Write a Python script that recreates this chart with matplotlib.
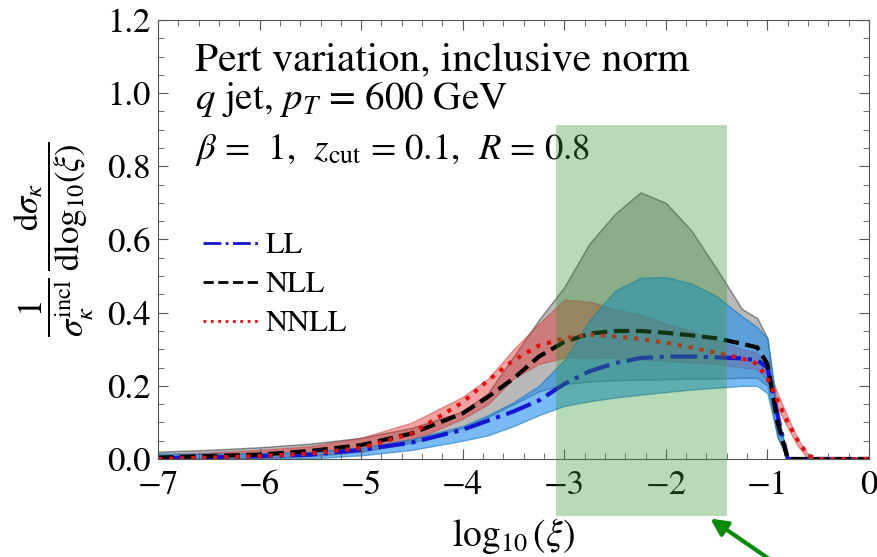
import matplotlib
matplotlib.use('Agg')
from matplotlib import pyplot as plt
from matplotlib.lines import Line2D
from matplotlib.patches import Rectangle
from matplotlib.ticker import MultipleLocator

plt.rcParams['font.family'] = 'STIXGeneral'
plt.rcParams['mathtext.fontset'] = 'stix'

# log10(xi) grid
x = [-7, -6.5, -6, -5.5, -5, -4.5, -4, -3.75, -3.5, -3.25, -3, -2.75, -2.5,
     -2.25, -2, -1.75, -1.5, -1.25, -1.1, -1.0, -0.9, -0.8, -0.7, -0.6, -0.5, 0]

ll = [0.002, 0.004, 0.008, 0.012, 0.025, 0.045, 0.08, 0.105, 0.13, 0.16, 0.205, 0.24,
      0.262, 0.276, 0.28, 0.28, 0.278, 0.275, 0.27, 0.25, 0.12, 0.0, 0.0, 0.0, 0.0, 0.0]
ll_hi = [0.015, 0.015, 0.016, 0.02, 0.03, 0.055, 0.09, 0.12, 0.155, 0.2, 0.27, 0.38,
         0.46, 0.495, 0.497, 0.48, 0.445, 0.39, 0.36, 0.33, 0.13, 0.0, 0.0, 0.0, 0.0, 0.0]
ll_lo = [0.0, 0.0, 0.0, 0.002, 0.01, 0.025, 0.05, 0.065, 0.09, 0.12, 0.145, 0.158,
         0.168, 0.176, 0.183, 0.19, 0.195, 0.2, 0.2, 0.18, 0.06, 0.0, 0.0, 0.0, 0.0, 0.0]

nll = [0.004, 0.008, 0.012, 0.022, 0.038, 0.07, 0.125, 0.17, 0.22, 0.28, 0.32, 0.343,
       0.35, 0.35, 0.345, 0.338, 0.33, 0.315, 0.305, 0.26, 0.1, 0.0, 0.0, 0.0, 0.0, 0.0]
nll_hi = [0.02, 0.025, 0.032, 0.042, 0.058, 0.085, 0.13, 0.18, 0.28, 0.38, 0.47, 0.59,
          0.67, 0.729, 0.70, 0.625, 0.52, 0.41, 0.385, 0.33, 0.12, 0.0, 0.0, 0.0, 0.0, 0.0]
nll_lo = [0.0, 0.001, 0.003, 0.008, 0.02, 0.045, 0.085, 0.115, 0.15, 0.185, 0.205, 0.212,
          0.215, 0.217, 0.218, 0.22, 0.22, 0.222, 0.222, 0.2, 0.06, 0.0, 0.0, 0.0, 0.0, 0.0]

nnll = [0.0, 0.004, 0.008, 0.015, 0.03, 0.07, 0.155, 0.215, 0.27, 0.31, 0.33, 0.34,
        0.335, 0.328, 0.318, 0.305, 0.29, 0.275, 0.26, 0.22, 0.16, 0.1, 0.05, 0.01, 0.0, 0.0]
nnll_hi = [0.01, 0.018, 0.025, 0.035, 0.058, 0.1, 0.17, 0.22, 0.3, 0.37, 0.435, 0.43,
           0.41, 0.395, 0.37, 0.35, 0.325, 0.3, 0.29, 0.255, 0.18, 0.115, 0.055, 0.012, 0.0, 0.0]
nnll_lo = [0.0, 0.0, 0.002, 0.008, 0.02, 0.05, 0.11, 0.15, 0.22, 0.26, 0.277, 0.278,
           0.276, 0.272, 0.268, 0.264, 0.26, 0.25, 0.245, 0.215, 0.14, 0.085, 0.035, 0.0, 0.0, 0.0]

labels = ['LL', 'NLL', 'NNLL']

fig = plt.figure(figsize=(8.77, 5.57), dpi=100)
ax = fig.add_axes([158/877, 98/557, 711/877, 439/557])

ax.fill_between(x, nll_lo, nll_hi, color='gray', alpha=0.55, ec='#333333', lw=1)
ax.fill_between(x, nnll_lo, nnll_hi, color='#e83030', alpha=0.45, ec='#c04040', lw=1)
ax.fill_between(x, ll_lo, ll_hi, color='#1e8ef0', alpha=0.6, ec='#1a78c0', lw=1)

ax.plot(x, ll, color='#1515d0', ls='-.', lw=3)
ax.plot(x, nll, color='black', ls='--', lw=3)
ax.plot(x, nnll, color='#e01010', ls=':', lw=3)

ax.set_xlim(-7, 0)
ax.set_ylim(0, 1.2)
ax.xaxis.set_minor_locator(MultipleLocator(0.2))
ax.yaxis.set_minor_locator(MultipleLocator(0.05))
ax.set_yticks([0.0, 0.2, 0.4, 0.6, 0.8, 1.0, 1.2])
ax.set_yticklabels(['0.0', '0.2', '0.4', '0.6', '0.8', '1.0', '1.2'])
ax.set_xticks([-7, -6, -5, -4, -3, -2, -1, 0])
ax.set_xticklabels(['\u22127', '\u22126', '\u22125', '\u22124', '\u22123', '\u22122', '\u22121', '0'])
ax.tick_params(which='both', direction='in', top=True, right=True, labelsize=25)
ax.tick_params(axis='x', pad=8)
ax.tick_params(axis='y', pad=5)
ax.tick_params(which='major', length=7, color='#555555')
ax.tick_params(which='minor', length=4, color='#555555')
for s in ax.spines.values():
    s.set_color('#555555')

ax.set_xlabel(r'$\log_{10}(\xi)$', fontsize=27, labelpad=10)
ax.set_ylabel(r'$\dfrac{1}{\sigma_\kappa^{\mathrm{incl}}}\,\dfrac{\mathrm{d}\sigma_\kappa}{\mathrm{dlog}_{10}(\xi)}$',
              fontsize=25, labelpad=8)

ax.text(0.052, 0.906, 'Pert variation, inclusive norm', transform=ax.transAxes,
        fontsize=30, va='center')
ax.text(0.052, 0.818, r'$q$ jet, $p_T$ = 600 GeV', transform=ax.transAxes,
        fontsize=28, va='center')
ax.text(0.052, 0.704, r'$\beta$ =  1,  $z_{\mathrm{cut}}$ = 0.1,  $R$ = 0.8',
        transform=ax.transAxes, fontsize=26.5, va='center')

handles = [Line2D([], [], color='#1515d0', ls='-.', lw=2),
           Line2D([], [], color='black', ls='--', lw=2),
           Line2D([], [], color='#e01010', ls=':', lw=2)]
ax.legend(handles, labels, loc='upper left', bbox_to_anchor=(0.024, 0.58), frameon=False,
          fontsize=22, handlelength=1.9, handletextpad=0.15, labelspacing=0.35)

# highlight box and arrow on top
rect = Rectangle((556/877, 41/557), 171/877, 391/557, transform=fig.transFigure,
                 facecolor=(0.2, 0.6, 0.2), alpha=0.35, lw=0, zorder=5)
fig.add_artist(rect)
ax.annotate('', xy=(708, 40), xycoords='figure pixels', xytext=(778, -8),
            textcoords='figure pixels', annotation_clip=False,
            arrowprops=dict(arrowstyle='-|>', color='#0a8a0a', lw=3, mutation_scale=25))

fig.savefig('out.png', dpi=100)
